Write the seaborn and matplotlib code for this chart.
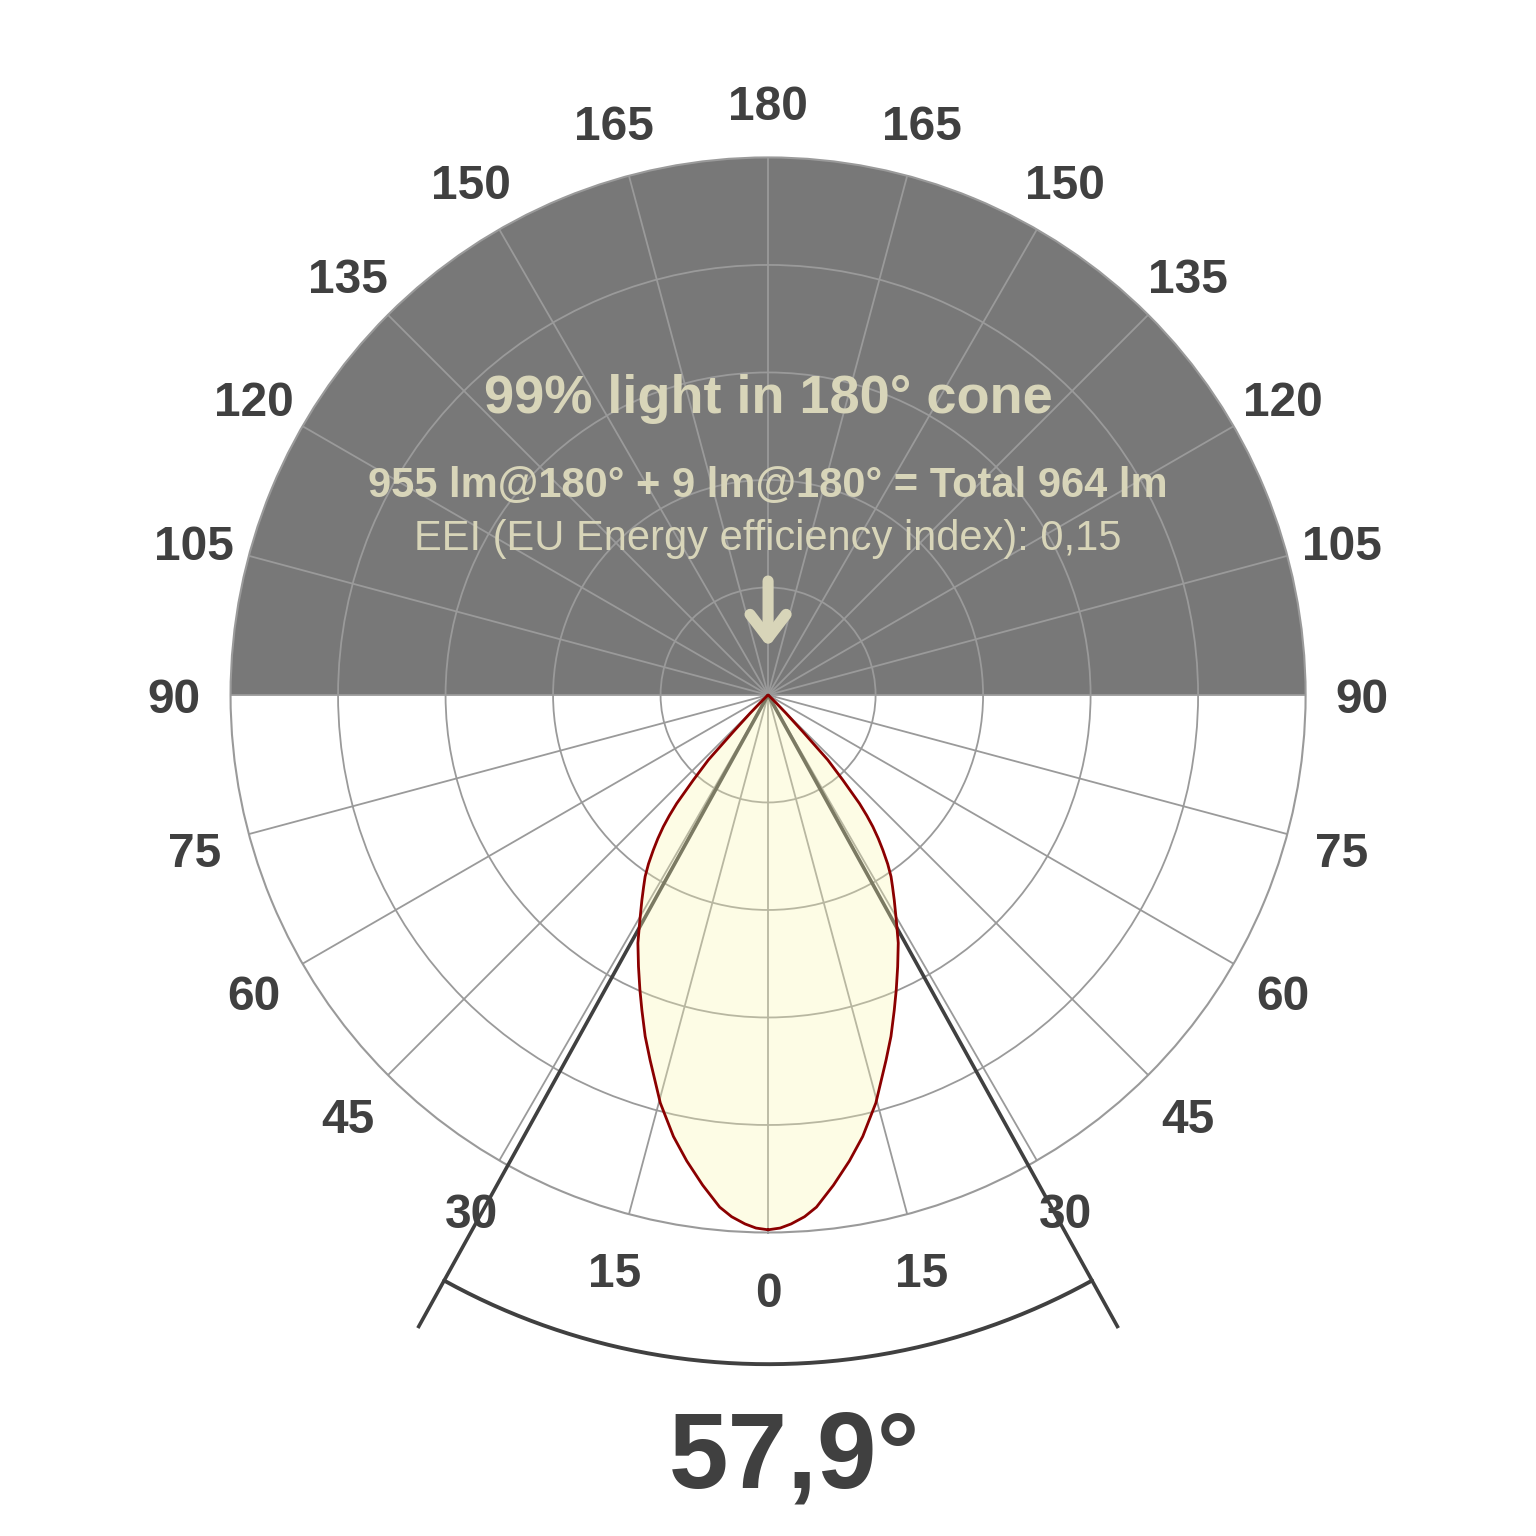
import numpy as np
import matplotlib
matplotlib.use("Agg")
import matplotlib.pyplot as plt
import matplotlib.transforms as mtransforms
import seaborn as sns
import pandas as pd

# ---- data ----
# half-profile of the luminous intensity (relative to max ring = 1), angle from nadir in degrees
profile_angle = [0, 1.3, 2.5, 4, 5.4, 7.6, 9.9, 12.1, 14.8, 17.9, 19.8, 21.8, 23.5, 25.5,
                 27.7, 29.5, 31.6, 33.0, 34.1, 35.3, 36.5, 37.5, 38.5, 39.3, 40.1, 41.3,
                 42.6, 43.4, 44.5, 45.5, 47, 50, 60, 90, 120, 150, 180]
profile_value = [0.995, 0.992, 0.985, 0.973, 0.957, 0.92, 0.88, 0.84, 0.785, 0.714, 0.675,
                 0.632, 0.598, 0.56, 0.521, 0.485, 0.448, 0.425, 0.408, 0.385, 0.359, 0.337,
                 0.313, 0.29, 0.264, 0.211, 0.164, 0.094, 0.048, 0.02, 0.005, 0.0, 0.0,
                 0.0, 0.0, 0.0, 0.0]
beam_angle = 57.9
ring_levels = [0.2, 0.4, 0.6, 0.8]
spoke_angles = list(range(0, 360, 15))
tick_labels = [str(a if a <= 180 else 360 - a) for a in spoke_angles]
title = "99% light in 180° cone"
flux_line = "955 lm@180° + 9 lm@180° = Total 964 lm"
eei_line = "EEI (EU Energy efficiency index): 0,15"
beam_label = "57,9°"

# ---- style ----
sns.set_theme(style="white")
plt.rcParams['font.family'] = ['Liberation Sans', 'DejaVu Sans']

BAND = '#787878'
GRID = '#9a9a9a'
DARK = '#404040'
BEIGE = '#d8d5b9'

fig = plt.figure(figsize=(15.36, 15.36), dpi=100)
fig.patch.set_facecolor('white')
ax = fig.add_axes([0.1501, 0.1976, 0.6999, 0.6999], projection='polar')
ax.set_theta_zero_location('S')
ax.set_theta_direction(1)
ax.set_ylim(0, 1)
ax.set_facecolor('white')
ax.set_axisbelow(False)  # grid at zorder 2.5 (above the band, below the lobe)

ax.set_xticks(np.deg2rad(spoke_angles))
ax.set_xticklabels([])
ax.set_yticks(ring_levels)
ax.set_yticklabels([])
ax.grid(True, color=GRID, lw=1.3)
ax.spines['polar'].set_color(GRID)
ax.spines['polar'].set_linewidth(1.5)

# upper hemisphere band
ax.bar(np.pi, 1.0, width=np.pi, bottom=0, color=BAND, edgecolor='none', zorder=1)

# full (mirrored) lobe
th_half = np.array(profile_angle, dtype=float)
r_half = np.array(profile_value, dtype=float)
th_full = np.concatenate([th_half, 360 - th_half[::-1]])
r_full = np.concatenate([r_half, r_half[::-1]])
df = pd.DataFrame({"theta": np.deg2rad(th_full), "r": r_full})

# beam angle lines and arc
half = np.deg2rad(beam_angle / 2)
for s in (-1, 1):
    ax.plot([s * half, s * half], [0, 1.346], color=DARK, lw=2.6, clip_on=False,
            zorder=2.8, solid_capstyle='butt')
arc_t = np.linspace(-half, half, 200)
ax.plot(arc_t, np.full_like(arc_t, 1.245), color=DARK, lw=2.8, clip_on=False, zorder=2.8)

ax.fill(df["theta"], df["r"], color='#faf6b0', alpha=0.32, zorder=3, lw=0)
sns.lineplot(data=df, x="theta", y="r", sort=False, estimator=None, ax=ax,
             color='#8b0000', lw=2.0, zorder=3.5)
ax.set_xlabel("")
ax.set_ylabel("")

# angle labels
lab_tr = mtransforms.offset_copy(ax.transData, fig=fig, x=0, y=-6, units='dots')
for a, lab in zip(spoke_angles, tick_labels):
    ax.text(np.deg2rad(a), 1.105, lab, ha='center', va='center', fontsize=34.5,
            fontweight='bold', color=DARK, clip_on=False, transform=lab_tr)

# arrow in the band
ax.annotate('', xy=(np.pi, 0.089), xytext=(np.pi, 0.212),
            arrowprops=dict(arrowstyle='->,head_length=0.85,head_width=0.65',
                            mutation_scale=20, color=BEIGE, lw=8,
                            capstyle='round', joinstyle='round',
                            shrinkA=0, shrinkB=0), zorder=4)

fig.text(0.5, 0.7311, title, ha='center', va='baseline', fontsize=39,
         fontweight='bold', color=BEIGE)
fig.text(0.5, 0.6767, flux_line, ha='center', va='baseline', fontsize=30,
         fontweight='bold', color=BEIGE)
fig.text(0.5, 0.6419, eei_line, ha='center', va='baseline', fontsize=30,
         color=BEIGE)
fig.text(0.517, 0.0319, beam_label, ha='center', va='baseline', fontsize=77,
         fontweight='bold', color=DARK)

fig.savefig('out.png', dpi=100, facecolor='white')
